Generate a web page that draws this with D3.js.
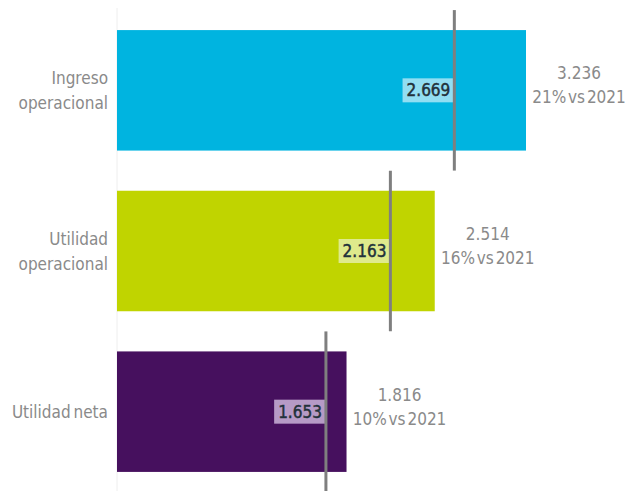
<!DOCTYPE html>
<html>
<head>
<meta charset="utf-8">
<script src="https://cdn.jsdelivr.net/npm/d3@7"></script>
<style>
  html, body { margin: 0; padding: 0; background: #fff; }
  svg { display: block; }
  text { font-family: "DejaVu Sans Condensed", "DejaVu Sans", sans-serif; font-stretch: condensed; }
</style>
</head>
<body>
<svg id="chart" width="628" height="491"></svg>
<script>
// Results 2022 vs 2021 (thousands of millions)
const categories = [["Ingreso", "operacional"], ["Utilidad", "operacional"], ["Utilidad neta"]];
const keys = ["ingreso", "utop", "neta"];
const values2022 = [3236, 2514, 1816];
const values2021 = [2669, 2163, 1653];
const growth = ["21% vs 2021", "16% vs 2021", "10% vs 2021"];
const barColors = ["#00b4e0", "#c0d400", "#46105e"];
const boxColors = ["#92def2", "#dfea8c", "#b69ac6"];

const fmt = v => d3.format(",")(v).replace(/,/g, ".");

const svg = d3.select("#chart");
const left = 117;

const x = d3.scaleLinear().domain([0, d3.max(values2022)]).range([left, 526]);
const y = d3.scaleBand().domain(keys).range([10, 492]).paddingInner(0.25).paddingOuter(0.125);
const bw = y.bandwidth();

// baseline
svg.append("line")
  .attr("x1", left).attr("x2", left)
  .attr("y1", 8).attr("y2", 491)
  .attr("stroke", "#eeeeee").attr("stroke-width", 1);

const rows = svg.selectAll("g.row").data(keys).join("g").attr("class", "row");

rows.append("rect")
  .attr("x", x(0))
  .attr("y", d => y(d))
  .attr("width", (d, i) => x(values2022[i]) - x(0))
  .attr("height", bw)
  .attr("fill", (d, i) => barColors[i]);

// category labels
rows.append("text")
  .attr("text-anchor", "end")
  .attr("fill", "#8a8a8a")
  .attr("font-size", 17)
  .attr("word-spacing", -2)
  .each(function(d, i) {
    const lines = categories[i];
    const cy = y(d) + bw / 2;
    const t = d3.select(this);
    lines.forEach((ln, j) => {
      t.append("tspan")
        .attr("x", left - 9)
        .attr("y", cy + 6 + (j - (lines.length - 1) / 2) * 25)
        .text(ln);
    });
  });

// 2021 value boxes
rows.each(function(d, i) {
  const g = d3.select(this);
  const mx = x(values2021[i]);
  const cy = y(d) + bw / 2;
  const box = g.append("rect")
    .attr("fill", boxColors[i]);
  const txt = g.append("text")
    .attr("x", mx - 4)
    .attr("y", cy + 6)
    .attr("text-anchor", "end")
    .attr("fill", "#22313a")
    .attr("stroke", "#22313a")
    .attr("stroke-width", 0.45)
    .attr("font-size", 17)
    .text(fmt(values2021[i]));
  const w = txt.node().getComputedTextLength();
  box.attr("x", mx - w - 8).attr("width", w + 8)
    .attr("y", cy - 12).attr("height", 24);
});

// 2021 markers
rows.append("line")
  .attr("x1", (d, i) => x(values2021[i]))
  .attr("x2", (d, i) => x(values2021[i]))
  .attr("y1", d => y(d) - 20)
  .attr("y2", d => y(d) + bw + 20)
  .attr("stroke", "#7f7f7f")
  .attr("stroke-width", 3);

// 2022 values and growth
rows.append("text")
  .attr("text-anchor", "middle")
  .attr("fill", "#8a8a8a")
  .attr("font-size", 17)
  .attr("word-spacing", -3)
  .each(function(d, i) {
    const t = d3.select(this);
    const cx = x(values2022[i]) + 53;
    const cy = y(d) + bw / 2;
    [fmt(values2022[i]), growth[i]].forEach((ln, j) => {
      t.append("tspan")
        .attr("x", cx)
        .attr("y", cy - 11 + j * 24)
        .text(ln);
    });
  });
</script>
</body>
</html>
